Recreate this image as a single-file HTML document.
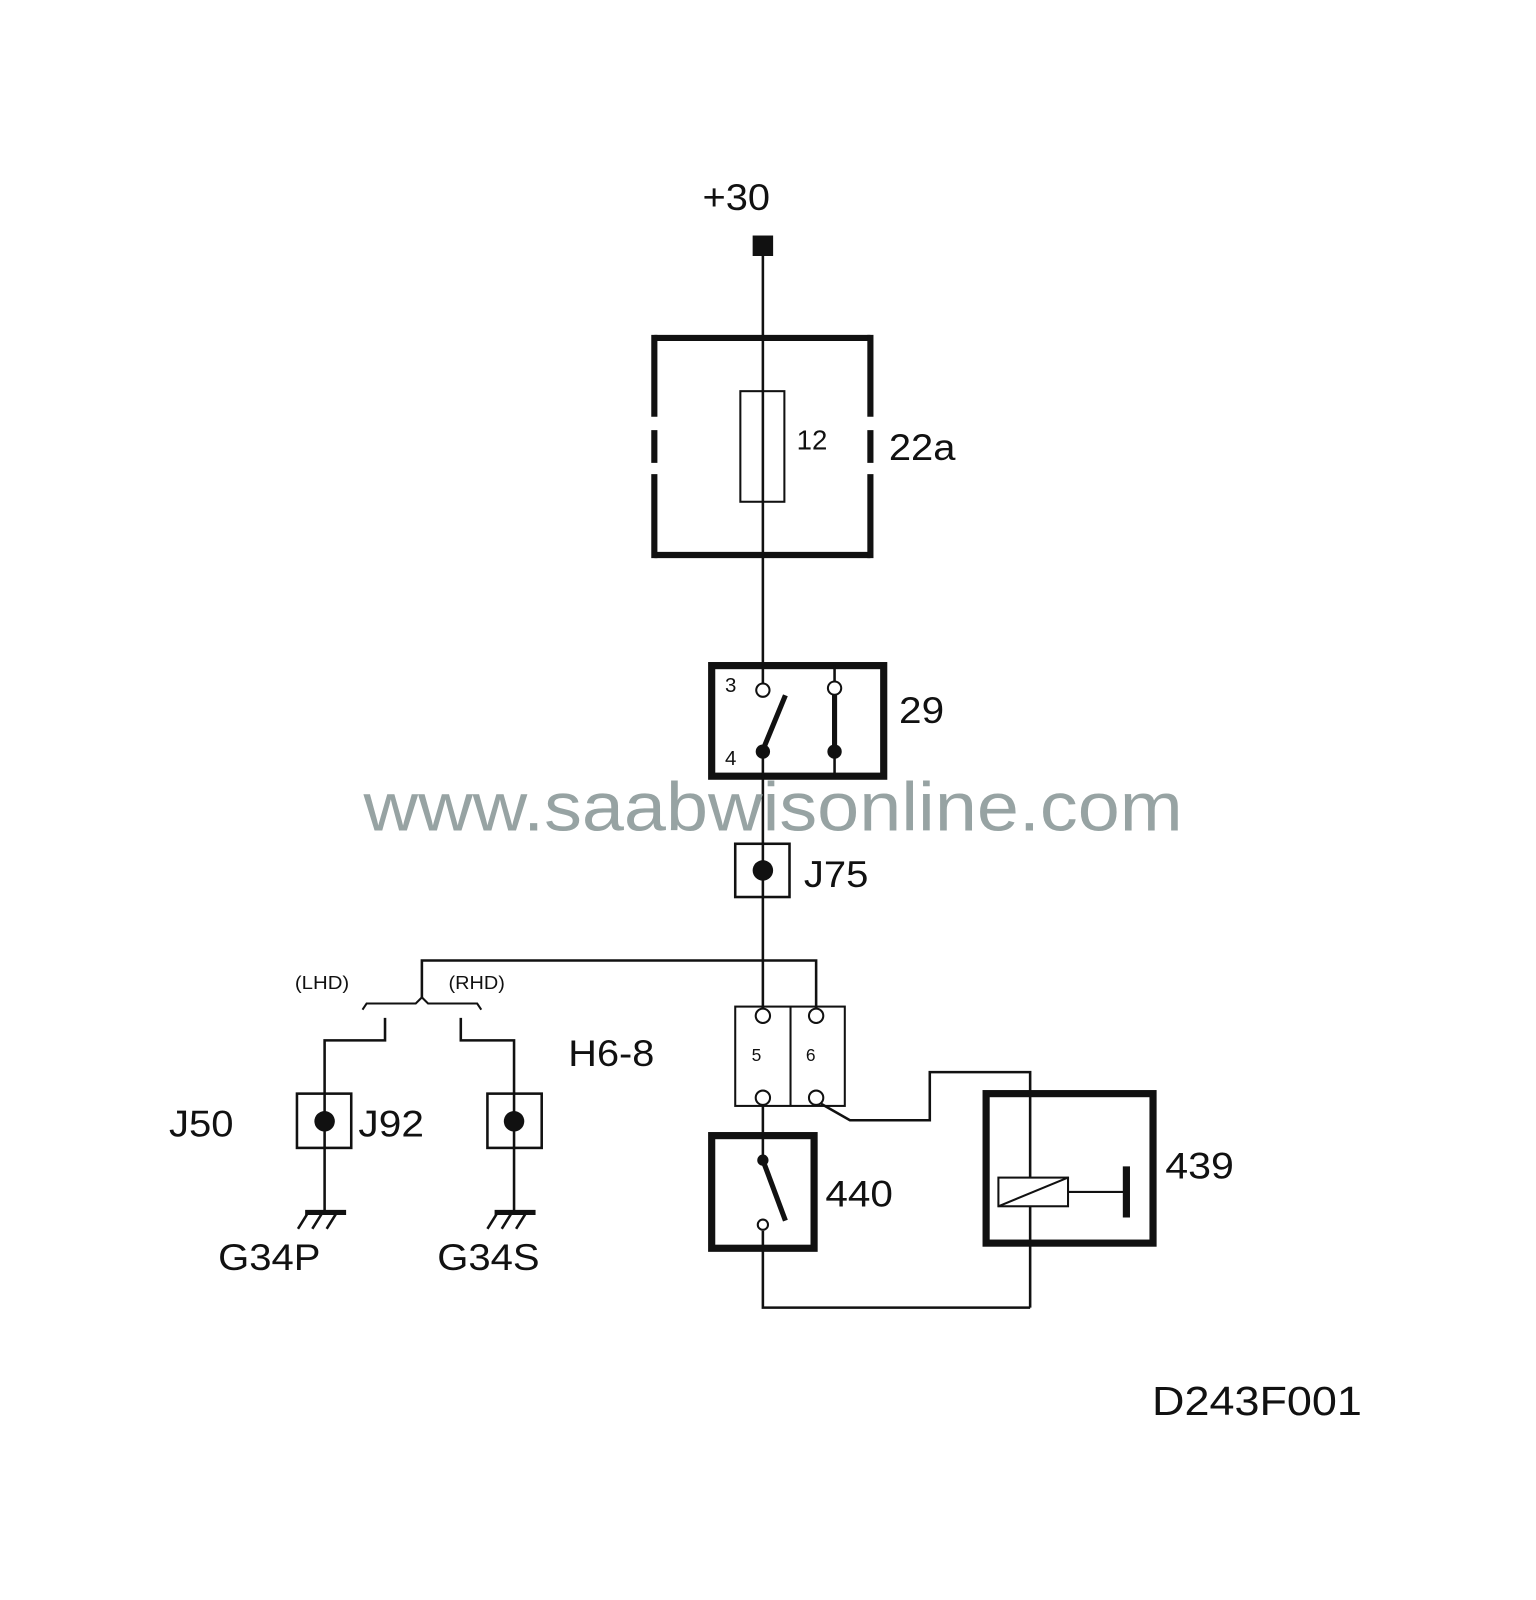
<!DOCTYPE html>
<html><head><style>
html,body{margin:0;padding:0;background:#fff;}
svg{display:block;}
text{font-family:"Liberation Sans",sans-serif;fill:#111;}
</style></head><body>
<svg width="1536" height="1600" viewBox="0 0 1500 1562.5" xmlns="http://www.w3.org/2000/svg">
<g stroke="#111" fill="none" stroke-width="2.5">
<line x1="745" y1="240" x2="745" y2="667"/>
<rect x="735" y="230" width="20" height="20" fill="#111" stroke="none"/>
<g stroke-width="6">
<line x1="639" y1="330" x2="850" y2="330"/>
<line x1="639" y1="542" x2="850" y2="542"/>
<line x1="639" y1="327" x2="639" y2="407"/>
<line x1="639" y1="420" x2="639" y2="452"/>
<line x1="639" y1="463" x2="639" y2="545"/>
<line x1="850" y1="327" x2="850" y2="407"/>
<line x1="850" y1="420" x2="850" y2="452"/>
<line x1="850" y1="463" x2="850" y2="545"/>
</g>
<rect x="723" y="382" width="43" height="108" fill="#fff" stroke-width="2"/>
<line x1="745" y1="382" x2="745" y2="490"/>
<rect x="695" y="650" width="168" height="108" stroke-width="7"/>
<circle cx="745" cy="674" r="6.5" fill="#fff" stroke-width="2"/>
<circle cx="815" cy="672" r="6.5" fill="#fff" stroke-width="2"/>
<line x1="815" y1="650" x2="815" y2="666"/>
<line x1="815" y1="678" x2="815" y2="734" stroke-width="5"/>
<circle cx="745" cy="734" r="7" fill="#111" stroke="none"/>
<circle cx="815" cy="734" r="7" fill="#111" stroke="none"/>
<line x1="746" y1="730" x2="767" y2="679" stroke-width="5"/>
<line x1="745" y1="734" x2="745" y2="985"/>
<line x1="815" y1="734" x2="815" y2="758"/>
<rect x="718" y="824" width="53" height="52" stroke-width="2.5"/>
<circle cx="745" cy="850" r="10" fill="#111" stroke="none"/>
<polyline points="412,975 412,938 797,938 797,985"/>
<path d="M354,986 L358,980 L406,980 L412,974 L418,980 L466,980 L470,986" stroke-width="2"/>
<polyline points="376,994 376,1016 317,1016 317,1185"/>
<polyline points="450,994 450,1016 502,1016 502,1185"/>
<rect x="290" y="1068" width="53" height="53"/>
<circle cx="317" cy="1095" r="10" fill="#111" stroke="none"/>
<rect x="476" y="1068" width="53" height="53"/>
<circle cx="502" cy="1095" r="10" fill="#111" stroke="none"/>
<line x1="298" y1="1184" x2="338" y2="1184" stroke-width="5"/>
<line x1="301" y1="1184" x2="291" y2="1200"/>
<line x1="315" y1="1184" x2="305" y2="1200"/>
<line x1="329" y1="1184" x2="319" y2="1200"/>
<line x1="483" y1="1184" x2="523" y2="1184" stroke-width="5"/>
<line x1="486" y1="1184" x2="476" y2="1200"/>
<line x1="500" y1="1184" x2="490" y2="1200"/>
<line x1="514" y1="1184" x2="504" y2="1200"/>
<rect x="718" y="983" width="107" height="97" stroke-width="2"/>
<line x1="772" y1="983" x2="772" y2="1080" stroke-width="2"/>
<circle cx="745" cy="992" r="7" fill="#fff" stroke-width="2"/>
<circle cx="797" cy="992" r="7" fill="#fff" stroke-width="2"/>
<circle cx="745" cy="1072" r="7" fill="#fff" stroke-width="2"/>
<circle cx="797" cy="1072" r="7" fill="#fff" stroke-width="2"/>
<polyline points="802,1078 830,1094 908,1094 908,1047 1006,1047 1006,1150"/>
<line x1="1006" y1="1178" x2="1006" y2="1277"/>
<polyline points="1006,1277 745,1277 745,1202"/>
<line x1="745" y1="1079" x2="745" y2="1133"/>
<rect x="695" y="1109" width="100" height="110" stroke-width="7"/>
<circle cx="745" cy="1133" r="5.5" fill="#111" stroke="none"/>
<line x1="745" y1="1133" x2="767" y2="1192" stroke-width="5"/>
<circle cx="745" cy="1196" r="5" fill="#fff" stroke-width="2"/>
<rect x="963" y="1068" width="163" height="146" stroke-width="7"/>
<rect x="975" y="1150" width="68" height="28" fill="#fff" stroke-width="2"/>
<line x1="975" y1="1178" x2="1043" y2="1150" stroke-width="2"/>
<line x1="1043" y1="1164" x2="1100" y2="1164" stroke-width="2"/>
<line x1="1100" y1="1139" x2="1100" y2="1189" stroke-width="7"/>
</g>
<text x="355" y="811" font-size="67" textLength="800" lengthAdjust="spacingAndGlyphs" style="fill:#97a3a3">www.saabwisonline.com</text>
<text x="686" y="205" font-size="36" textLength="66" lengthAdjust="spacingAndGlyphs">+30</text>
<text x="778" y="439" font-size="27" textLength="30" lengthAdjust="spacingAndGlyphs">12</text>
<text x="868" y="449" font-size="36" textLength="65" lengthAdjust="spacingAndGlyphs">22a</text>
<text x="878" y="706" font-size="36" textLength="44" lengthAdjust="spacingAndGlyphs">29</text>
<text x="708" y="676" font-size="20">3</text>
<text x="708" y="747" font-size="20">4</text>
<text x="785" y="866" font-size="36" textLength="63" lengthAdjust="spacingAndGlyphs">J75</text>
<text x="288" y="966" font-size="18" textLength="53" lengthAdjust="spacingAndGlyphs">(LHD)</text>
<text x="438" y="966" font-size="18" textLength="55" lengthAdjust="spacingAndGlyphs">(RHD)</text>
<text x="555" y="1041" font-size="36" textLength="84" lengthAdjust="spacingAndGlyphs">H6-8</text>
<text x="734" y="1036" font-size="17">5</text>
<text x="787" y="1036" font-size="17">6</text>
<text x="165" y="1110" font-size="36" textLength="63" lengthAdjust="spacingAndGlyphs">J50</text>
<text x="350" y="1110" font-size="36" textLength="64" lengthAdjust="spacingAndGlyphs">J92</text>
<text x="213" y="1240" font-size="36" textLength="100" lengthAdjust="spacingAndGlyphs">G34P</text>
<text x="427" y="1240" font-size="36" textLength="100" lengthAdjust="spacingAndGlyphs">G34S</text>
<text x="806" y="1178" font-size="36" textLength="66" lengthAdjust="spacingAndGlyphs">440</text>
<text x="1138" y="1151" font-size="36" textLength="67" lengthAdjust="spacingAndGlyphs">439</text>
<text x="1125" y="1382" font-size="40" textLength="205" lengthAdjust="spacingAndGlyphs">D243F001</text>
</svg>
</body></html>
